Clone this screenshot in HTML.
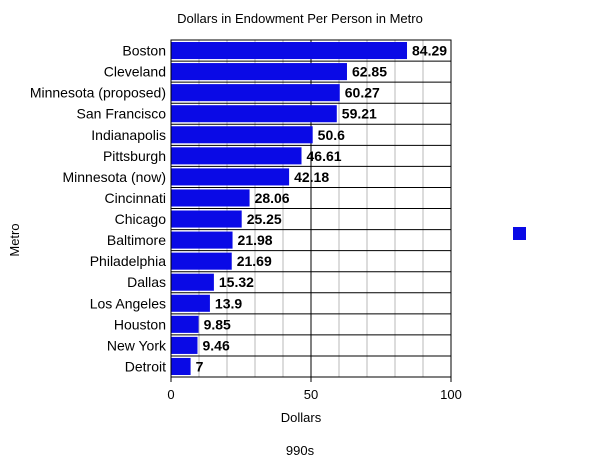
<!DOCTYPE html>
<html><head><meta charset="utf-8"><style>
body{margin:0;background:#fff;width:600px;height:463px;overflow:hidden;font-family:"Liberation Sans",Arial,sans-serif}
</style></head><body>
<svg id="chart" width="600" height="463" xmlns="http://www.w3.org/2000/svg">
<text x="300" y="23" text-anchor="middle" font-size="13">Dollars in Endowment Per Person in Metro</text>
<text x="19" y="240" text-anchor="middle" font-size="13" transform="rotate(-90 19 240)">Metro</text>
<text x="301" y="422" text-anchor="middle" font-size="13">Dollars</text>
<text x="300" y="455" text-anchor="middle" font-size="13">990s</text>
<rect x="513" y="227" width="13" height="13" fill="#0a0ae6"/>
<g id="plot"></g>
</svg>
<script>
const categories=["Boston","Cleveland","Minnesota (proposed)","San Francisco","Indianapolis","Pittsburgh","Minnesota (now)","Cincinnati","Chicago","Baltimore","Philadelphia","Dallas","Los Angeles","Houston","New York","Detroit"];
const values=[84.29,62.85,60.27,59.21,50.6,46.61,42.18,28.06,25.25,21.98,21.69,15.32,13.9,9.85,9.46,7];
const labels=["84.29","62.85","60.27","59.21","50.6","46.61","42.18","28.06","25.25","21.98","21.69","15.32","13.9","9.85","9.46","7"];
const ticks=[0,50,100];
const gridVals=[10,20,30,40,50,60,70,80,90];
const L=171,R=451,T=40,B=377,MAX=100;
const x=v=>L+(v/MAX)*(R-L);
const rowH=(B-T)/categories.length;
const y=i=>T+i*rowH;
const g=document.getElementById('plot');
const NS="http://www.w3.org/2000/svg";
function mk(t,a){const e=document.createElementNS(NS,t);for(const k in a)e.setAttribute(k,a[k]);g.appendChild(e);return e;}
gridVals.forEach(v=>{
 const l=mk('line',{x1:x(v),x2:x(v),y1:T,y2:B,stroke:v===50?'#000':'#b8b8b8','stroke-width':1});
 
 
});
categories.forEach((c,i)=>{
 if(i>0){const s=mk('line',{x1:L,x2:R,y1:y(i),y2:y(i),stroke:'#000','stroke-width':1});
 
 }
 const b=mk('rect',{x:L,y:y(i)+2,width:x(values[i])-L,height:rowH-4,fill:'#0a0ae6'});
 
 
 const t=mk('text',{x:x(values[i])+5,y:y(i)+rowH/2+5,'font-size':14,'font-weight':'bold'});
 t.textContent=labels[i];
 
 
 const n=mk('text',{x:L-5,y:y(i)+rowH/2+5,'font-size':14,'text-anchor':'end'});
 n.textContent=c;
 
 
});
const f=mk('rect',{x:L,y:T,width:R-L,height:B-T,fill:'none',stroke:'#000','stroke-width':1});


ticks.forEach(v=>{
 const l=mk('line',{x1:x(v),x2:x(v),y1:B,y2:B+5,stroke:'#000'});
 
 
 const t=mk('text',{x:x(v),y:B+22,'font-size':13,'text-anchor':'middle'});
 t.textContent=v;
 
 
});
</script>
</body></html>
